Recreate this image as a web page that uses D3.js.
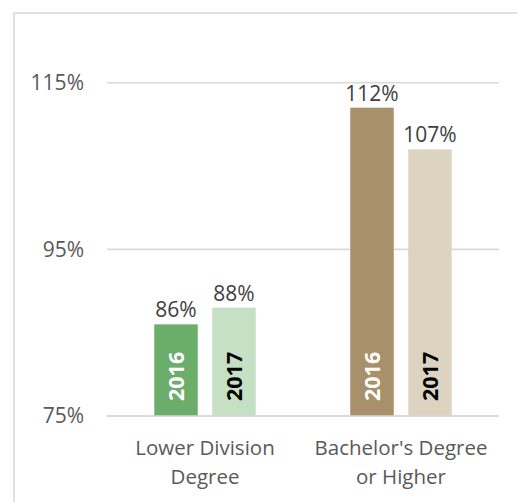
<!DOCTYPE html>
<html>
<head>
<meta charset="utf-8">
<script src="https://cdn.jsdelivr.net/npm/d3@7"></script>
<style>
  html, body { margin: 0; padding: 0; background: #fff; }
  svg { display: block; }
  text { font-family: "Open Sans", sans-serif; }
</style>
</head>
<body>
<svg id="chart" width="517" height="502"></svg>
<script>
const categories = ["Lower Division|Degree", "Bachelor's Degree|or Higher"];
const years = ["2016", "2017"];
const values2016 = [86, 112];
const values2017 = [88, 107];
const yTicks = [75, 95, 115];
const barColors = {
  "Lower Division|Degree": ["#6bad6b", "#c6e0c4"],
  "Bachelor's Degree|or Higher": ["#a8906a", "#ddd3c1"]
};
const yearTextColors = ["#ffffff", "#000000"];

const svg = d3.select("#chart");

// outer chart border
svg.append("rect")
  .attr("x", 14).attr("y", 13)
  .attr("width", 700).attr("height", 700)
  .attr("fill", "none")
  .attr("stroke", "#d9d9d9")
  .attr("stroke-width", 1.6);

const plot = { left: 107, right: 499, top: 82.7, bottom: 416 };

const y = d3.scaleLinear().domain([75, 115]).range([plot.bottom, plot.top]);
const x = d3.scaleBand().domain(categories).range([plot.left, plot.right]).paddingInner(0).paddingOuter(0);
const xi = d3.scaleBand().domain(years).range([0, x.bandwidth()]).paddingInner(0.25).paddingOuter(0.815);

// gridlines
svg.append("g").selectAll("line").data(yTicks).join("line")
  .attr("x1", plot.left).attr("x2", plot.right)
  .attr("y1", d => y(d)).attr("y2", d => y(d))
  .attr("stroke", "#d9d9d9").attr("stroke-width", 1.6);

// y tick labels
svg.append("g").selectAll("text").data(yTicks).join("text")
  .attr("x", 84).attr("y", d => y(d))
  .attr("dy", "0.35em")
  .attr("text-anchor", "end")
  .attr("fill", "#595959")
  .attr("font-size", 21)
  .text(d => d + "%");

const rows = [];
categories.forEach((c, i) => {
  rows.push({ cat: c, year: years[0], yi: 0, v: values2016[i] });
  rows.push({ cat: c, year: years[1], yi: 1, v: values2017[i] });
});

// bars
svg.append("g").selectAll("rect").data(rows).join("rect")
  .attr("x", d => x(d.cat) + xi(d.year))
  .attr("width", xi.bandwidth())
  .attr("y", d => y(d.v))
  .attr("height", d => y(75) - y(d.v))
  .attr("fill", d => barColors[d.cat][d.yi]);

// baseline redraw on top
svg.append("line")
  .attr("x1", plot.left).attr("x2", plot.right)
  .attr("y1", y(75)).attr("y2", y(75))
  .attr("stroke", "#d9d9d9").attr("stroke-width", 1.6);

// value labels
svg.append("g").selectAll("text").data(rows).join("text")
  .attr("x", d => x(d.cat) + xi(d.year) + xi.bandwidth() / 2)
  .attr("y", d => y(d.v) - 7)
  .attr("text-anchor", "middle")
  .attr("fill", "#404040")
  .attr("font-size", 21)
  .text(d => d.v + "%");

// year labels inside bars
svg.append("g").selectAll("text").data(rows).join("text")
  .attr("transform", d => `translate(${x(d.cat) + xi(d.year) + xi.bandwidth() / 2},${y(75) - 15}) rotate(-90)`)
  .attr("dy", "0.36em")
  .attr("text-anchor", "start")
  .attr("fill", d => yearTextColors[d.yi])
  .attr("font-size", 21.5)
  .attr("font-weight", "bold")
  .text(d => d.year);

// category labels
const cl = svg.append("g").selectAll("text").data(categories).join("text")
  .attr("x", d => x(d) + x.bandwidth() / 2)
  .attr("y", 455)
  .attr("text-anchor", "middle")
  .attr("fill", "#595959")
  .attr("font-size", 20.5);
cl.each(function(d) {
  const parts = d.split("|");
  d3.select(this).selectAll("tspan").data(parts).join("tspan")
    .attr("x", x(d) + x.bandwidth() / 2)
    .attr("dy", (p, i) => i === 0 ? 0 : 28.5)
    .text(p => p);
});
</script>
</body>
</html>
